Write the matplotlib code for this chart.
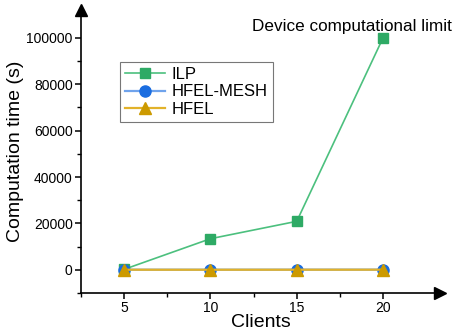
import matplotlib.pyplot as plt
import numpy as np

plt.rcParams['font.family'] = ['Liberation Sans', 'DejaVu Sans']

clients = [5, 10, 15, 20]
ilp = [200, 13400, 20900, 100000]
hfel_mesh = [50, 40, 60, 70]
hfel = [30, 30, 40, 50]

fig = plt.figure(figsize=(4.57, 3.34), dpi=100)
ax = fig.add_axes([81 / 457, 41 / 334, (440 - 81) / 457, 283 / 334])

ax.plot(clients, ilp, color='#4cc07e', lw=1.2, marker='s', ms=7.5,
        mfc='#2eaa65', mec='#2eaa65', label='ILP')
ax.plot(clients, hfel_mesh, color='#6fa3ec', lw=1.6, marker='o', ms=8,
        mfc='#1a6de0', mec='#1a6de0', label='HFEL-MESH')
ax.plot(clients, hfel, color='#e2b22a', lw=1.6, marker='^', ms=9,
        mfc='#cc9a00', mec='#cc9a00', label='HFEL')

ax.set_xlim(2.5, 23.3)
ax.set_ylim(-10000, 112000)
ax.set_xticks([5, 10, 15, 20])
ax.set_xticks([2.5, 7.5, 12.5, 17.5], minor=True)
ax.set_yticks(np.arange(0, 100001, 20000))
ax.set_yticks(np.arange(-10000, 100001, 20000), minor=True)

for s in ['top', 'right']:
    ax.spines[s].set_visible(False)
for s in ['left', 'bottom']:
    ax.spines[s].set_linewidth(1.2)
ax.tick_params(which='major', length=4, width=1.1, labelsize=10, pad=2)
ax.tick_params(which='minor', length=3, width=1.0)

ax.plot(0, 1, marker='^', ms=8, color='black', transform=ax.transAxes, clip_on=False)
ax.plot(1, 0, marker='>', ms=8, color='black', transform=ax.transAxes, clip_on=False)

ax.set_xlabel('Clients', fontsize=14, labelpad=-1)
ax.set_ylabel('Computation time (s)', fontsize=14, labelpad=2)

ax.text(352 / 457, 1 - 27 / 334, 'Device computational limit', transform=fig.transFigure,
        fontsize=12.3, ha='center', va='center')

leg = ax.legend(loc='upper left', bbox_to_anchor=(120 / 457, 1 - 62 / 334),
                bbox_transform=fig.transFigure, fontsize=12, frameon=True,
                fancybox=False, edgecolor='#555555', handlelength=2.4,
                borderpad=0.3, labelspacing=0.15, handletextpad=0.4, borderaxespad=0)
leg.get_frame().set_linewidth(0.8)

fig.savefig('out.png', dpi=100)
